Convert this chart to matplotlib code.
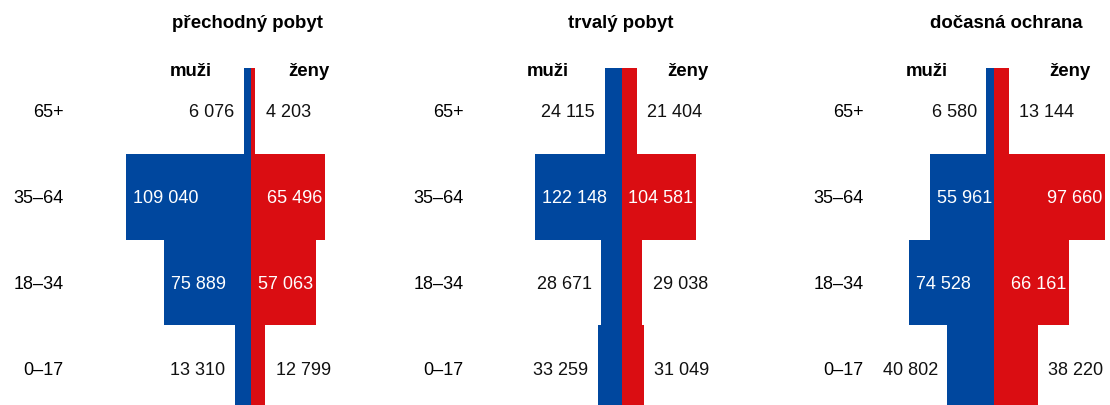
import matplotlib.pyplot as plt

plt.rcParams['font.family'] = ['Liberation Sans', 'DejaVu Sans']

# vekove skupiny (zdola nahoru)
skupiny = ["0–17", "18–34", "35–64", "65+"]
nazvy = ["přechodný pobyt", "trvalý pobyt", "dočasná ochrana"]

muzi = [
    [13310, 75889, 109040, 6076],
    [33259, 28671, 122148, 24115],
    [40802, 74528, 55961, 6580],
]
zeny = [
    [12799, 57063, 65496, 4203],
    [31049, 29038, 104581, 21404],
    [38220, 66161, 97660, 13144],
]

MODRA = "#00479E"
CERVENA = "#DA0D12"

W, H = 1110, 405
fig = plt.figure(figsize=(W / 100, H / 100), dpi=100)

# rozlozeni panelu v pixelech:
# levy okraj, pravy okraj, stred, meritko (px na osobu), x nadpisu, x "muži", x "ženy"
panely = [
    (70, 370, 250.5, 0.00114, 247, 191, 309),
    (470, 770, 621.7, 0.00071, 621, 548, 688),
    (870, 1110, 994, 0.00114, 1006, 927, 1070),
]
top_px, bot_px = 68, 411


def fmt(v):
    return f"{v:,}".replace(",", " ")


for i, (L, R, cx, s, tx, mx, zx) in enumerate(panely):
    ax = fig.add_axes([L / W, (H - bot_px) / H, (R - L) / W, (bot_px - top_px) / H])
    y = range(len(skupiny))
    ax.barh(y, [-m for m in muzi[i]], height=1.0, color=MODRA, linewidth=0)
    ax.barh(y, zeny[i], height=1.0, color=CERVENA, linewidth=0)
    ax.set_xlim((L - cx) / s, (R - cx) / s)
    ax.set_ylim(-0.5, len(skupiny) - 0.5)
    ax.set_xticks([])
    ax.set_yticks([])
    for sp in ax.spines.values():
        sp.set_visible(False)

    for k in y:
        # popisky vekovych skupin
        ax.annotate(skupiny[k], (0, k), xycoords=("axes fraction", "data"),
                    xytext=(-4.5, -1.5), textcoords="offset points",
                    ha="right", va="center", fontsize=13, annotation_clip=False)
        m, z = muzi[i][k], zeny[i][k]
        if m * s > 55:
            ax.annotate(fmt(m), (-m, k), xytext=(5, -1.5), textcoords="offset points",
                        ha="left", va="center", color="white", fontsize=13)
        else:
            ax.annotate(fmt(m), (-m, k), xytext=(-7, -1.5), textcoords="offset points",
                        ha="right", va="center", color="#111111", fontsize=13)
        if z * s > 55:
            ax.annotate(fmt(z), (z, k), xytext=(-2, -1.5), textcoords="offset points",
                        ha="right", va="center", color="white", fontsize=13)
        else:
            ax.annotate(fmt(z), (z, k), xytext=(7.5, -1.5), textcoords="offset points",
                        ha="left", va="center", color="#111111", fontsize=13)

    fig.text(tx / W, 1 - 23 / H, nazvy[i], ha="center", va="center",
             fontsize=13.4, fontweight="bold")
    fig.text(mx / W, 1 - 72 / H, "muži", ha="center", va="center",
             fontsize=13.4, fontweight="bold")
    fig.text(zx / W, 1 - 72 / H, "ženy", ha="center", va="center",
             fontsize=13.4, fontweight="bold")

fig.savefig("out.png", dpi=100)
